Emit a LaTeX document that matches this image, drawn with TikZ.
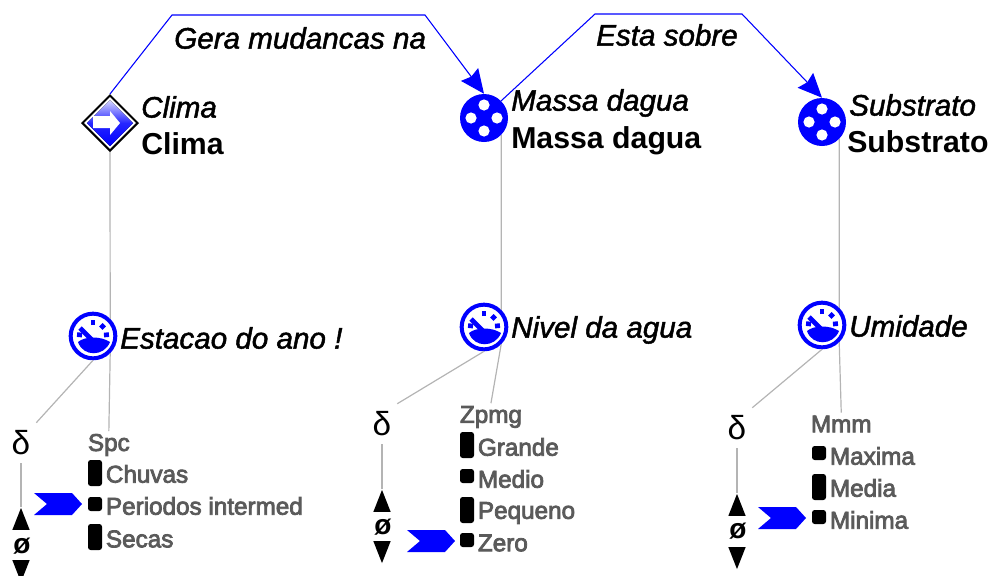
\documentclass[tikz,border=0pt]{standalone}
\usepackage{fontspec}
\setmainfont{Liberation Sans}
\newfontfamily\catfont[FakeBold=3.2]{Liberation Sans}
\newfontfamily\namefont[FakeBold=1.6]{Liberation Sans}
\usetikzlibrary{arrows.meta,shapes.geometric}

\definecolor{iconblue}{RGB}{0,0,255}
\definecolor{catgray}{RGB}{90,90,90}
\definecolor{linegray}{RGB}{180,180,180}

\tikzset{
  linkline/.style={draw=iconblue,line width=0.8pt,-{Stealth[length=18pt,width=16pt,inset=2pt]}},
  treeline/.style={draw=linegray,line width=0.9pt},
  itname/.style={anchor=west,inner sep=0pt,font=\fontsize{22.2}{24}\namefont\itshape},
  bname/.style={anchor=west,inner sep=0pt,font=\fontsize{22.7}{26}\selectfont\bfseries},
  cat/.style={anchor=west,inner sep=2pt,text=catgray,font=\fontsize{18.2}{20}\catfont},
  res/.style={circle,fill=iconblue,inner sep=0pt,minimum size=36pt},
  gauge/.style={circle,draw=iconblue,fill=white,line width=3pt,inner sep=0pt,minimum size=33.5pt},
  tallb/.style={fill=black,rounded corners=2pt,inner sep=0pt,minimum width=10.5pt,minimum height=19.5pt},
  smallb/.style={fill=black,rounded corners=2pt,inner sep=0pt,minimum width=10.5pt,minimum height=10.5pt},
  dlt/.style={inner sep=0pt,minimum width=22.5pt,minimum height=30pt,font=\fontsize{25}{28}\selectfont},
  nul/.style={inner sep=0pt,font=\fontsize{21}{24}\selectfont\bfseries},
  tri/.style={isosceles triangle,isosceles triangle stretches,fill=black,inner sep=0pt,
    minimum width=13pt,minimum height=16.5pt},
}

\begin{document}
\begin{tikzpicture}[x=0.75pt,y=-0.75pt]
\useasboundingbox (0,0) rectangle (989,575);

\coordinate (g1) at (172,15);
\coordinate (g2) at (425,15);
\coordinate (e1) at (595,14);
\coordinate (e2) at (742,14);

\node [diamond,draw=black,fill=white,line width=1.5pt,inner sep=0pt,minimum size=42pt] (clima) at (110,123) {};
\node [res] (massa) at (484,118) {};
\node [res] (subs) at (822,122) {};

\node [gauge] (gauge1) at (93,336) {};
\node [gauge] (gauge2) at (484,327) {};
\node [gauge] (gauge3) at (822,325) {};

% diamond icon
\fill [top color=iconblue!15,bottom color=iconblue,middle color=iconblue!85] (110,100) -- (133,123) -- (110,146) -- (87,123) -- cycle;
\fill [white] (93,116) -- (110,116) -- (110,111) -- (120,123) -- (110,135) -- (110,128) -- (93,128) -- cycle;

\foreach \i in {massa,subs} {
\foreach \p in {(0,-13),(0,13),(-13,0),(13,0)} {
\begin{scope}[shift={(\i.center)}]
\fill [white] \p circle (5.6);
\end{scope}
}
}

\foreach \i in {gauge1,gauge2,gauge3} {
\begin{scope}[shift={(\i.center)}]
\fill [iconblue] (-15,6) .. controls (-8,0) and (8,0) .. (17,6) .. controls (11,21) and (-10,21) .. cycle;
\draw [iconblue,line width=3.5pt] (-13,-8) -- (3,8);
\foreach \a in {-175,-90,-45,-5} {
\draw [iconblue,line width=3.5pt] (\a:11) -- (\a:16);
}
\end{scope}
}

\node [itname] at (141,107) (t1) {Clima};
\node [bname] at (141,144) (t2) {Clima};
\node [itname] at (511,103) (t3) {Massa dagua};
\node [bname] at (511,141) (t4) {Massa dagua};
\node [itname] at (849,105) (t5) {Substrato};
\node [bname] at (847,142) (t6) {Substrato};
\node [itname] at (120,338) (t7) {Estacao do ano !};
\node [itname] at (511,330) (t8) {Nivel da agua};
\node [itname] at (849,326) (t9) {Umidade};
\node [itname] at (174,38) (t10) {Gera mudancas na};
\node [itname] at (596,35) (t11) {Esta sobre};

\draw [linkline] (clima.north) -- (g1) -- (g2) -- (massa.north);
\draw [linkline] (massa.north east) -- (e1) -- (e2) -- (subs.north);

\node [dlt] (delta1) at (21,443) {δ};
\node [dlt] (delta2) at (382,424) {δ};
\node [dlt] (delta3) at (737,428) {δ};

\node [tri,shape border rotate=90] (up1) at (21,524) {};
\node [nul] (nul1) at (22,546) {ø};
\node [tri,shape border rotate=-90] (dn1) at (21,566) {};
\node [tri,shape border rotate=90] (up2) at (382,506) {};
\node [nul] (nul2) at (383,527) {ø};
\node [tri,shape border rotate=-90] (dn2) at (382,547) {};
\node [tri,shape border rotate=90] (up3) at (737,510) {};
\node [nul] (nul3) at (738,531) {ø};
\node [tri,shape border rotate=-90] (dn3) at (737,553) {};

\node [cat] (spc) at (85,445) {Spc};
\node [tallb] (b11) at (95,473) {};
\node [smallb] (b12) at (95,504) {};
\node [tallb] (b13) at (95,537) {};
\node [cat] (c11) at (103,474) {Chuvas};
\node [cat] (c12) at (103,506) {Periodos intermed};
\node [cat] (c13) at (103,539) {Secas};

\node [cat] (zpmg) at (457,417) {Zpmg};
\node [tallb] (b21) at (467,445) {};
\node [smallb] (b22) at (467,476) {};
\node [tallb] (b23) at (467,510) {};
\node [smallb] (b24) at (467,540) {};
\node [cat] (c21) at (475,447) {Grande};
\node [cat] (c22) at (475,479) {Medio};
\node [cat] (c23) at (475,513) {Pequeno};
\node [cat] (c24) at (475,543) {Zero};

\node [cat] (mmm) at (808,424) {Mmm};
\node [smallb] (b31) at (819,453) {};
\node [tallb] (b32) at (819,487) {};
\node [smallb] (b33) at (819,517) {};
\node [cat] (c31) at (827,456) {Maxima};
\node [cat] (c32) at (827,488) {Media};
\node [cat] (c33) at (827,520) {Minima};

\draw [treeline] (clima.south) -- (gauge1.north east);
\draw [treeline] (massa.south east) -- (gauge2.north east);
\draw [treeline] (subs.south east) -- (gauge3.north east);

\draw [treeline] (gauge1.south east) -- (spc.north);
\draw [treeline] (gauge2.south east) -- (zpmg.north);
\draw [treeline] (gauge3.south east) -- (mmm.north);

\foreach \i in {1,2,3} {
\draw [treeline] (gauge\i.south) -- (delta\i.north east);
\draw [treeline] (delta\i.south) -- (up\i.apex);
}

\foreach \i/\x/\y in {1/34/504,2/407/541,3/758/518} {
\coordinate (ch\i) at (\x,\y);
\fill [iconblue] (ch\i) ++(0,-11) -- ++(38,0) -- ++(10,11) -- ++(-10,11) -- ++(-38,0) -- ++(13,-11) -- cycle;
}

\end{tikzpicture}
\end{document}
